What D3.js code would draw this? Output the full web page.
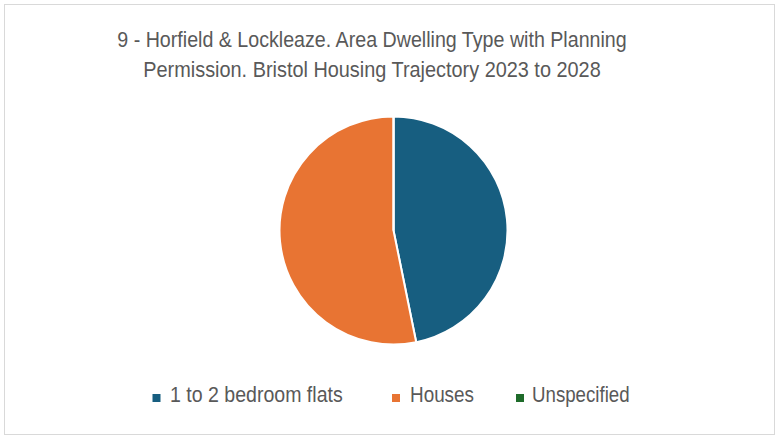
<!DOCTYPE html>
<html><head><meta charset="utf-8">
<script src="https://cdn.jsdelivr.net/npm/d3@7"></script>
<style>body{margin:0;background:#fff}svg{display:block}text{font-family:"Liberation Sans",Arial,sans-serif}</style>
</head><body>
<svg id="c" width="779" height="439"></svg>
<script>
const categories = ["1 to 2 bedroom flats", "Houses", "Unspecified"];
const values = [44, 50, 0];
const colors = ["#175e80", "#e87433", "#1e6b2a"];
const titleLines = ["9 - Horfield & Lockleaze. Area Dwelling Type with Planning", "Permission. Bristol Housing Trajectory 2023 to 2028"];

const svg = d3.select("#c");
svg.append("rect").attr("x",4.5).attr("y",4.5).attr("width",770).attr("height",430)
  .attr("fill","#fff").attr("stroke","#d9d9d9").attr("stroke-width",1);

const titleLayout = [{x:117.3, w:509.4, y:46.5}, {x:143.3, w:457.4, y:77}];
svg.append("g").selectAll("text").data(titleLines).join("text")
  .attr("x",(d,i)=>titleLayout[i].x).attr("y",(d,i)=>titleLayout[i].y)
  .attr("textLength",(d,i)=>titleLayout[i].w).attr("lengthAdjust","spacingAndGlyphs")
  .attr("font-size",22.5).attr("fill","#595959").text(d=>d);

const data = categories.map((c,i)=>({c, v: values[i], col: colors[i]}));
const pie = d3.pie().sort(null).value(d=>d.v);
const arc = d3.arc().innerRadius(0).outerRadius(114);
svg.append("g").attr("transform","translate(393.5,230.5)")
  .selectAll("path").data(pie(data)).join("path")
  .attr("d",arc).attr("fill",d=>d.data.col).attr("stroke","#fff").attr("stroke-width",2);

const legSq = [152.5, 392, 516];
const legTx = [{x:170, w:172.7}, {x:410, w:64}, {x:532, w:97.6}];
const lg = svg.append("g");
data.forEach((d,i)=>{
  lg.append("rect").attr("x",legSq[i]).attr("y",394).attr("width",8).attr("height",8).attr("fill",d.col);
  lg.append("text").attr("x",legTx[i].x).attr("y",402).attr("textLength",legTx[i].w)
    .attr("lengthAdjust","spacingAndGlyphs").attr("font-size",21.5).attr("fill","#595959").text(d.c);
});
</script>
</body></html>
